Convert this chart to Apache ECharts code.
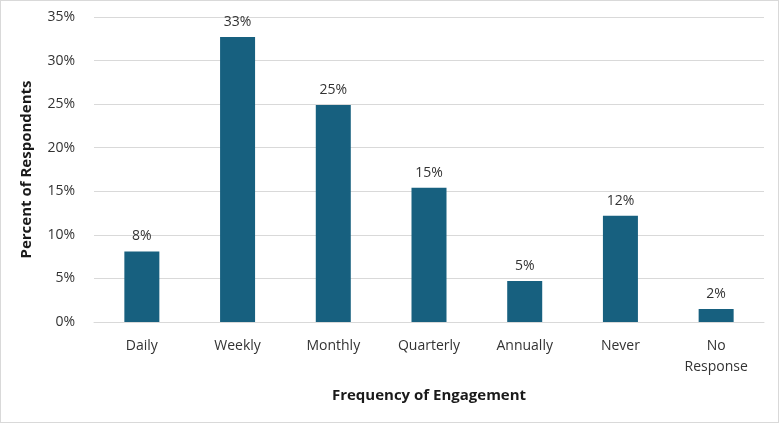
<!DOCTYPE html>
<html>
<head>
<meta charset="utf-8">
<script src="https://cdn.jsdelivr.net/npm/echarts@6/dist/echarts.min.js"></script>
<style>
  html, body { margin:0; padding:0; background:#fff; }
  #main { width:777px; height:421px; border:1px solid #d9d9d9; }
</style>
</head>
<body>
<div id="main"></div>
<script>
// data
var categories = ['Daily', 'Weekly', 'Monthly', 'Quarterly', 'Annually', 'Never', 'No\nResponse'];
var percents = [8.1, 32.7, 24.9, 15.4, 4.7, 12.2, 1.5];
var yTicks = [0, 5, 10, 15, 20, 25, 30, 35];

var myChart = echarts.init(document.getElementById('main'));
var font = '"Open Sans", sans-serif';
var option = {
    animation: false,
    grid: { left: 93, right: 14, top: 16, bottom: 100 },
    xAxis: {
        type: 'category',
        data: categories,
        name: 'Frequency of Engagement',
        nameLocation: 'middle',
        nameGap: 66,
        nameTextStyle: { fontFamily: font, fontSize: 15, fontWeight: 'bold', color: '#1a1a1a' },
        axisLine: { lineStyle: { color: '#d9d9d9' } },
        axisTick: { show: false },
        axisLabel: { fontFamily: font, fontSize: 14, color: '#333', margin: 14, lineHeight: 21 }
    },
    yAxis: {
        type: 'value',
        min: yTicks[0],
        max: yTicks[yTicks.length - 1],
        interval: 5,
        name: 'Percent of Respondents',
        nameLocation: 'middle',
        nameGap: 60,
        nameTextStyle: { fontFamily: font, fontSize: 15, fontWeight: 'bold', color: '#1a1a1a' },
        axisLabel: { fontFamily: font, fontSize: 14, color: '#333', margin: 19, formatter: '{value}%' },
        splitLine: { lineStyle: { color: '#d9d9d9' } }
    },
    series: [{
        type: 'bar',
        data: percents,
        barWidth: 35,
        itemStyle: { color: '#17607f' },
        label: {
            show: true,
            position: 'top',
            distance: 8,
            fontFamily: font,
            fontSize: 14,
            color: '#333',
            formatter: function (p) { return Math.round(p.value) + '%'; }
        }
    }]
};
myChart.setOption(option);
</script>
</body>
</html>
